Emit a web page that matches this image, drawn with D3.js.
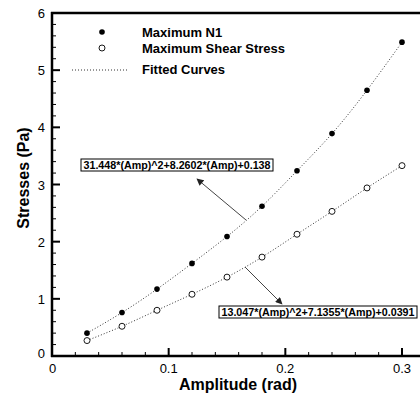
<!DOCTYPE html>
<html lang="en">
<head>
<meta charset="UTF-8">
<title>Stresses vs Amplitude</title>
<script src="https://cdn.jsdelivr.net/npm/d3@7"></script>
<style>
  body { margin: 0; background: #fff; }
  svg { display: block; font-family: "Liberation Sans", Arial, sans-serif; }
</style>
</head>
<body>
<div id="chart"></div>
<script>
// data
var amplitude = [0.03, 0.06, 0.09, 0.12, 0.15, 0.18, 0.21, 0.24, 0.27, 0.30];
var maxN1 = [0.40, 0.76, 1.17, 1.62, 2.09, 2.62, 3.24, 3.89, 4.65, 5.49];
var maxShear = [0.27, 0.52, 0.80, 1.08, 1.38, 1.73, 2.13, 2.53, 2.94, 3.33];
var xTicks = [0, 0.1, 0.2, 0.3];
var yTicks = [0, 1, 2, 3, 4, 5, 6];
var fitN1Label = "31.448*(Amp)^2+8.2602*(Amp)+0.138";
var fitShearLabel = "13.047*(Amp)^2+7.1355*(Amp)+0.0391";

var width = 420, height = 396;
var svg = d3.select("#chart").append("svg")
    .attr("width", width).attr("height", height);

var x = d3.scaleLinear().domain([0, 0.3]).range([52, 402]);
var y = d3.scaleLinear().domain([0, 6]).range([356, 13]);

// minor ticks
var xMinor = d3.range(0, 0.33, 0.02).filter(function(v) { return Math.abs(v * 10 - Math.round(v * 10)) > 1e-6; });
var yMinor = d3.range(0, 6.01, 0.2).filter(function(v) { return Math.abs(v - Math.round(v)) > 1e-6; });

svg.selectAll(".xminor").data(xMinor).join("line")
    .attr("x1", function(d) { return x(d); }).attr("x2", function(d) { return x(d); })
    .attr("y1", y(0)).attr("y2", y(0) - 4)
    .attr("stroke", "#000").attr("stroke-width", 1);
svg.selectAll(".xmajor").data(xTicks).join("line")
    .attr("x1", function(d) { return x(d); }).attr("x2", function(d) { return x(d); })
    .attr("y1", y(0)).attr("y2", y(0) - 8)
    .attr("stroke", "#000").attr("stroke-width", 2);
svg.selectAll(".yminor").data(yMinor).join("line")
    .attr("x1", x(0)).attr("x2", x(0) + 4)
    .attr("y1", function(d) { return y(d); }).attr("y2", function(d) { return y(d); })
    .attr("stroke", "#000").attr("stroke-width", 1);
svg.selectAll(".ymajor").data(yTicks).join("line")
    .attr("x1", x(0)).attr("x2", x(0) + 8)
    .attr("y1", function(d) { return y(d); }).attr("y2", function(d) { return y(d); })
    .attr("stroke", "#000").attr("stroke-width", 2);

// frame: left, bottom, top (right side falls outside the window)
svg.append("line").attr("x1", x(0)).attr("x2", x(0)).attr("y1", y(6) - 1).attr("y2", y(0) + 1)
    .attr("stroke", "#000").attr("stroke-width", 2.5);
svg.append("line").attr("x1", x(0) - 1).attr("x2", width).attr("y1", y(0)).attr("y2", y(0))
    .attr("stroke", "#000").attr("stroke-width", 2.5);
svg.append("line").attr("x1", x(0) - 1).attr("x2", width).attr("y1", y(6)).attr("y2", y(6))
    .attr("stroke", "#000").attr("stroke-width", 2.5);

// tick labels
svg.selectAll(".xlab").data(xTicks).join("text")
    .attr("x", function(d) { return x(d); }).attr("y", y(0) + 17)
    .attr("text-anchor", function(d) { return d === 0 ? "start" : "middle"; })
    .attr("dx", function(d) { return d === 0 ? -3 : 0; })
    .attr("font-size", 13)
    .text(function(d) { return d === 0 ? "0" : d3.format(".1f")(d); });
svg.selectAll(".ylab").data(yTicks).join("text")
    .attr("x", x(0) - 7).attr("y", function(d) { return y(d) + 5; })
    .attr("dy", function(d) { return d === 0 ? -3 : 0; })
    .attr("text-anchor", "end").attr("font-size", 13)
    .text(function(d) { return d; });

// axis titles
svg.append("text").attr("x", 238).attr("y", 390).attr("text-anchor", "middle")
    .attr("font-size", 16).attr("font-weight", "bold").text("Amplitude (rad)");
svg.append("text").attr("transform", "translate(29,178) rotate(-90)").attr("text-anchor", "middle")
    .attr("font-size", 16).attr("font-weight", "bold").text("Stresses (Pa)");

// fitted curves (dotted, drawn through the points)
var line = d3.line().curve(d3.curveNatural)
    .x(function(d) { return x(d[0]); }).y(function(d) { return y(d[1]); });
[maxN1, maxShear].forEach(function(s) {
    svg.append("path").datum(d3.zip(amplitude, s)).attr("d", line)
        .attr("fill", "none").attr("stroke", "#333").attr("stroke-width", 1)
        .attr("stroke-dasharray", "1,2");
});

// points
svg.selectAll(".n1").data(d3.zip(amplitude, maxN1)).join("circle")
    .attr("cx", function(d) { return x(d[0]); }).attr("cy", function(d) { return y(d[1]); })
    .attr("r", 2.8).attr("fill", "#000");
svg.selectAll(".sh").data(d3.zip(amplitude, maxShear)).join("circle")
    .attr("cx", function(d) { return x(d[0]); }).attr("cy", function(d) { return y(d[1]); })
    .attr("r", 3).attr("fill", "#fff").attr("stroke", "#000").attr("stroke-width", 0.9);

// legend
svg.append("circle").attr("cx", 102).attr("cy", 32).attr("r", 2.8).attr("fill", "#000");
svg.append("circle").attr("cx", 102).attr("cy", 48).attr("r", 3).attr("fill", "#fff")
    .attr("stroke", "#000").attr("stroke-width", 0.9);
svg.append("line").attr("x1", 72).attr("x2", 127).attr("y1", 70).attr("y2", 70)
    .attr("stroke", "#333").attr("stroke-dasharray", "1,2");
var legendText = ["Maximum N1", "Maximum Shear Stress", "Fitted Curves"];
var legendY = [37, 53, 74];
svg.selectAll(".leg").data(legendText).join("text")
    .attr("x", 142).attr("y", function(d, i) { return legendY[i]; })
    .attr("font-size", 13).attr("font-weight", "bold").text(function(d) { return d; });

// annotations
var defs = svg.append("defs");
defs.append("marker").attr("id", "arr").attr("viewBox", "0 0 10 10")
    .attr("refX", 9).attr("refY", 5).attr("markerWidth", 9).attr("markerHeight", 7)
    .attr("markerUnits", "userSpaceOnUse").attr("orient", "auto")
    .append("path").attr("d", "M0,0L10,5L0,10Z").attr("fill", "#222");

function note(label, bx, by, bw, ax1, ay1, ax2, ay2) {
    svg.append("line").attr("x1", ax1).attr("y1", ay1).attr("x2", ax2).attr("y2", ay2)
        .attr("stroke", "#444").attr("stroke-width", 1).attr("marker-end", "url(#arr)");
    svg.append("rect").attr("x", bx).attr("y", by).attr("width", bw).attr("height", 12)
        .attr("fill", "#fff").attr("stroke", "#000").attr("stroke-width", 1);
    svg.append("text").attr("x", bx + bw / 2).attr("y", by + 10).attr("text-anchor", "middle")
        .attr("font-size", 11).attr("font-weight", "bold").attr("textLength", bw - 5)
        .attr("lengthAdjust", "spacingAndGlyphs")
        .text(label);
}
note(fitN1Label, 81, 159, 192, 246, 220, 197, 179);
note(fitShearLabel, 219, 306, 198, 245, 267, 282, 304);
</script>
</body>
</html>
